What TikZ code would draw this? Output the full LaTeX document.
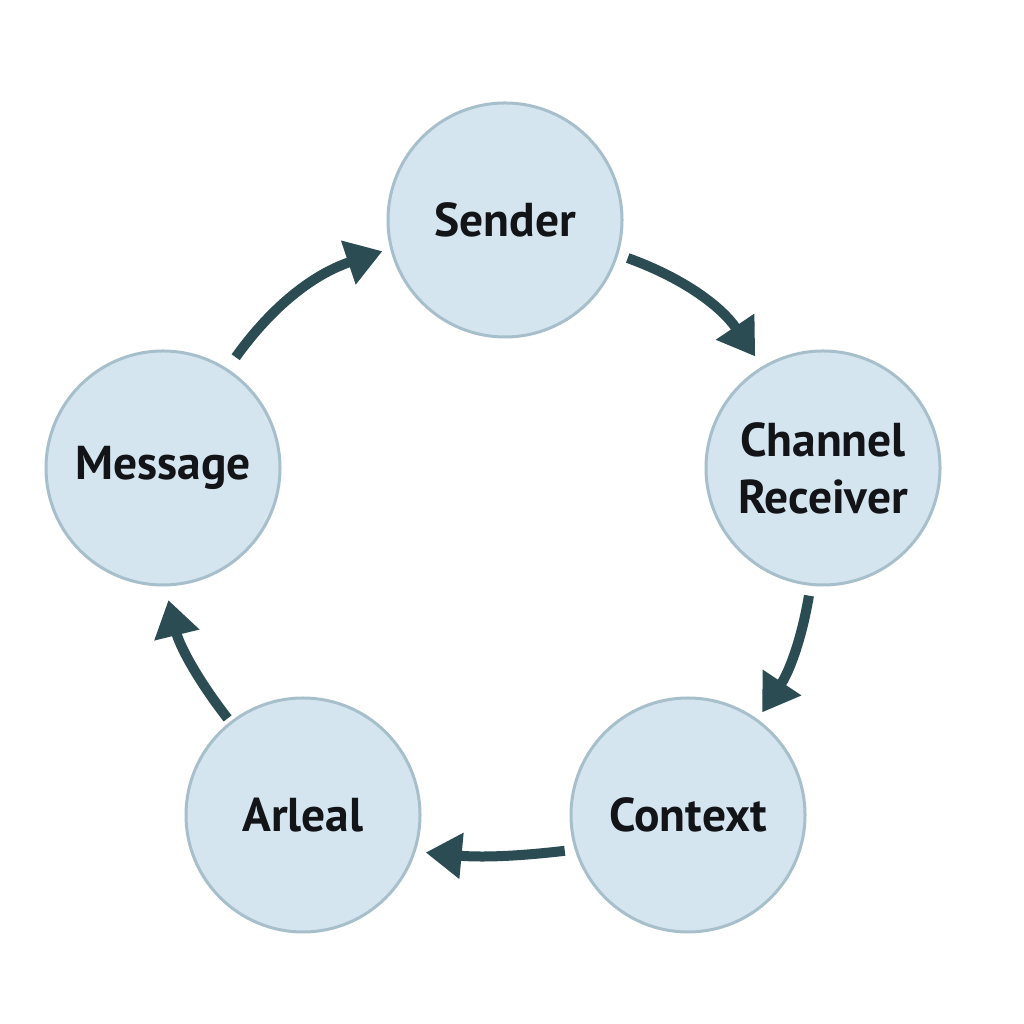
\documentclass[tikz,border=0pt]{standalone}
\usepackage{fontspec}
\setmainfont{PT Sans}
\usetikzlibrary{arrows.meta,calc}
\definecolor{cfill}{HTML}{D4E5EF}
\definecolor{cline}{HTML}{A7BFCB}
\definecolor{arr}{HTML}{2B4C52}
\definecolor{txt}{HTML}{121418}
\begin{document}
\begin{tikzpicture}[x=1pt,y=1pt,
  stage/.style={circle,fill=cfill,draw=cline,line width=3pt,minimum size=234pt,inner sep=0pt,
    font=\fontsize{47.5}{57}\selectfont\bfseries,text=txt,align=center},
  flow/.style={draw=arr,line width=10pt,-{Triangle[length=36pt,width=44pt]},bend left=18}]
\useasboundingbox (0,0) rectangle (1024,1024);
\fill[white] (0,0) rectangle (1024,1024);
\node[stage] (snd) at (505,804) {Sender};
\node[stage] (chr) at (823,556) {Channel\\Receiver};
\node[stage] (ctx) at (688,209) {Context};
\node[stage] (arl) at (303,209) {Arleal};
\node[stage] (msg) at (163,556) {Message};
\draw[flow,shorten <=14pt,shorten >=8pt] (msg.57) to (snd.194);
\draw[flow,shorten <=10pt,shorten >=12pt] (snd.-17) to (chr.121);
\draw[flow,shorten <=10pt,shorten >=8pt,bend left=12] (chr.264) to (ctx.54);
\draw[flow,shorten <=10pt,shorten >=10pt,bend left=6] (ctx.197) to (arl.-18);
\draw[flow,shorten <=4pt,shorten >=14pt,bend left=12] (arl.128) to (msg.271);
\end{tikzpicture}
\end{document}
